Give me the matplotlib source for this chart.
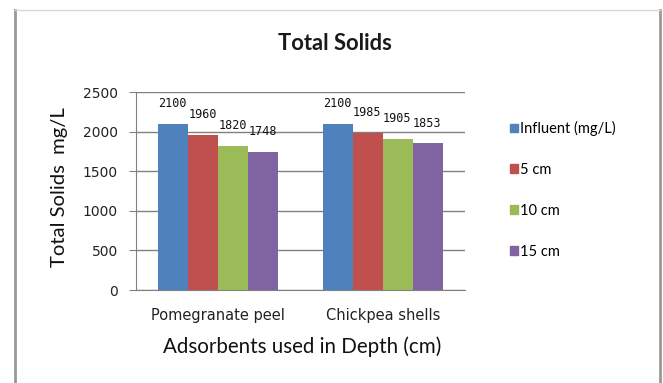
import matplotlib
matplotlib.use("Agg")
import matplotlib.pyplot as plt
import numpy as np
from matplotlib.lines import Line2D
from matplotlib.patches import Patch

categories = ["Pomegranate peel", "Chickpea shells"]
series_names = ["Influent (mg/L)", "5 cm", "10 cm", "15 cm"]
influent = [2100, 2100]
cm5 = [1960, 1985]
cm10 = [1820, 1905]
cm15 = [1748, 1853]
colors = ["#4F81BD", "#C0504D", "#9BBB59", "#8064A2"]
yticks = [0, 500, 1000, 1500, 2000, 2500]

plt.rcParams['font.family'] = ['Lato', 'DejaVu Sans']

fig = plt.figure(figsize=(6.63, 3.83), dpi=100)
ax = fig.add_axes([136/663, 1-290/383, 329/663, 198/383])

x = np.arange(len(categories))
w = 0.182
all_series = [influent, cm5, cm10, cm15]
for i, (vals, c, name) in enumerate(zip(all_series, colors, series_names)):
    pos = x + (i - 1.5) * w
    ax.bar(pos, vals, width=w, color=c, label=name, zorder=3)
    for p, v in zip(pos, vals):
        ax.annotate(f"{v}", (p, v), xytext=(-0.5, 14.5), textcoords="offset points",
                    ha="center", va="center", fontsize=8.5, family="DejaVu Sans Mono",
                    color="#111111")

ax.set_xlim(-0.5, 1.5)
ax.set_ylim(0, 2500)
ax.set_yticks(yticks)
ax.set_yticklabels([str(t) for t in yticks], fontsize=10, family="DejaVu Sans", color="#222222")
ax.set_xticks(x)
ax.set_xticklabels(categories, fontsize=10.5, family="DejaVu Sans", color="#222222")
ax.tick_params(axis='x', length=0, pad=13)
ax.tick_params(axis='y', length=5, direction='out', color='#808080', pad=8)
ax.grid(axis='y', color='#808080', linewidth=1, zorder=0)
for s in ['top', 'right']:
    ax.spines[s].set_visible(False)
ax.spines['left'].set_color('#808080')
ax.spines['bottom'].set_color('#808080')

fig.text(335/663, 1-43/383, "Total Solids", ha="center", va="center", fontsize=15.8, fontweight="bold",
         color="#1a1a1a")
fig.text(302/663, 1-347/383, "Adsorbents used in Depth (cm)", ha="center", va="center", fontsize=14.8,
         color="#111111")
fig.text(60/663, 1-187/383, "Total Solids  mg/L", ha="center", va="center", rotation=90, fontsize=14.6,
         color="#111111")

handles = [Patch(color=c) for c in colors]
fig.legend(handles, series_names, loc="upper left", bbox_to_anchor=(510/663, 1-121/383),
           frameon=False, fontsize=10.5, handlelength=0.55, handleheight=0.55, handletextpad=0.15,
           labelspacing=1.85, borderaxespad=0, borderpad=0)

# outer frame
fig.add_artist(Line2D([15/663, 15/663], [0, 1-10/383], color="#999999", linewidth=2, transform=fig.transFigure))
fig.add_artist(Line2D([660/663, 660/663], [0, 1-10/383], color="#999999", linewidth=2, transform=fig.transFigure))
fig.add_artist(Line2D([15/663, 660/663], [1-10/383, 1-10/383], color="#d9d9d9", linewidth=1, transform=fig.transFigure))

fig.savefig("out.png", dpi=100)
